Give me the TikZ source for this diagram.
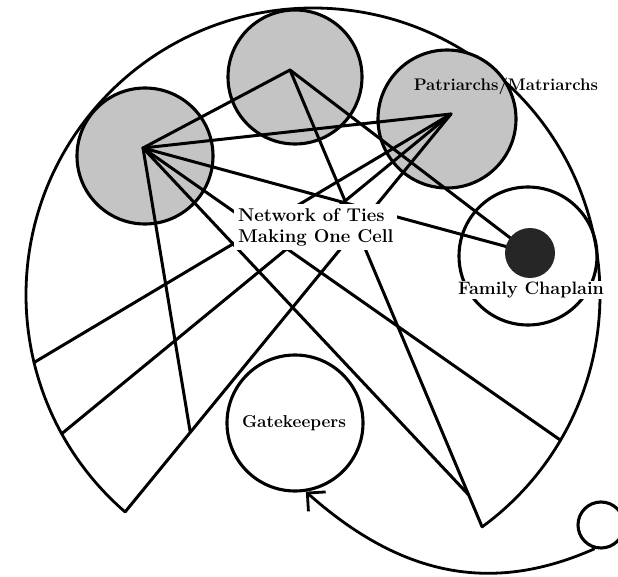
\documentclass[tikz,border=0pt]{standalone}
\usepackage{fontspec}
\usetikzlibrary{arrows.meta,calc}
\begin{document}
\begin{tikzpicture}[x=1pt,y=-1pt,
  tie/.style={line width=3pt, line cap=round},
  ring/.style={draw, line width=3.1pt, circle, inner sep=0pt},
  cell/.style={ring, fill=black!23},
  lbl/.style={inner sep=2pt},
]
\useasboundingbox (0,0) rectangle (618,577);
\clip (0,0) rectangle (618,577);
% outer shape centre and points on it
\coordinate (C) at (313,295);
\coordinate (B1) at ($(C)+(130.9:287)$);
\coordinate (B2) at ($(C)+(53.9:287)$);
\coordinate (A1) at ($(C)+(166.4:287)$);
\coordinate (A2) at ($(C)+(151.1:287)$);
\coordinate (E1) at ($(C)+(30.4:287)$);
\draw[line width=2.8pt] (B1) arc[start angle=130.9, end angle=413.9, radius=287];
% circles
\node[cell, minimum size=136pt] (cL) at (145,156) {};
\node[cell, minimum size=134pt] (cT) at (295,77) {};
\node[cell, minimum size=138pt] (cP) at (447,119) {};
\node[ring, minimum size=138pt] (cC) at (528,256) {};
\node[ring, minimum size=136pt] (cG) at (295,423) {};
\node[ring, minimum size=46pt] (cS) at (601,525) {};
% hubs
\coordinate (hL) at (143,148);
\coordinate (hT) at (290,70);
\coordinate (hP) at (451,114);
\coordinate (dotc) at (530,253);
\coordinate (J1) at ($(hT)!0.93!(B2)$);
\coordinate (J2) at ($(hP)!0.8!(B1)$);
% ties
\draw[tie] (hL) -- (hT);
\draw[tie] (hL) -- (hP);
\draw[tie] (hL) -- (dotc);
\draw[tie] (hL) -- (E1);
\draw[tie] (hL) -- (J1);
\draw[tie] (hL) -- (J2);
\draw[tie] (hT) -- (dotc);
\draw[tie] (hT) -- (B2);
\draw[tie] (hP) -- (B1);
\draw[tie] (hP) -- (A1);
\draw[tie] (hP) -- (A2);
% chaplain dot
\node[circle, fill=black!85, minimum size=50pt, inner sep=0pt] (dot) at (dotc) {};
% arrow to gatekeepers
\draw[line width=2.8pt, -{Straight Barb[length=13pt,width=26pt]}] (cS.-105) .. controls (495,593) and (404,579) .. (cG.-81);
% labels
\node[lbl, fill=white, align=left, anchor=north west, inner sep=4pt,
      font=\bfseries\fontsize{18.5}{21.5}\selectfont] (net) at (234,204) {Network of Ties\\Making One Cell};
\node[lbl, font=\bfseries\fontsize{16.8}{19}\selectfont] (pm) at (506,86) {Patriarchs/Matriarchs};
\node[lbl, fill=white, inner sep=1pt, font=\bfseries\fontsize{18}{20}\selectfont] (fc) at (531,290) {Family Chaplain};
\node[lbl, font=\bfseries\fontsize{17.2}{20}\selectfont] (gk) at (294,423) {Gatekeepers};
\end{tikzpicture}
\end{document}
